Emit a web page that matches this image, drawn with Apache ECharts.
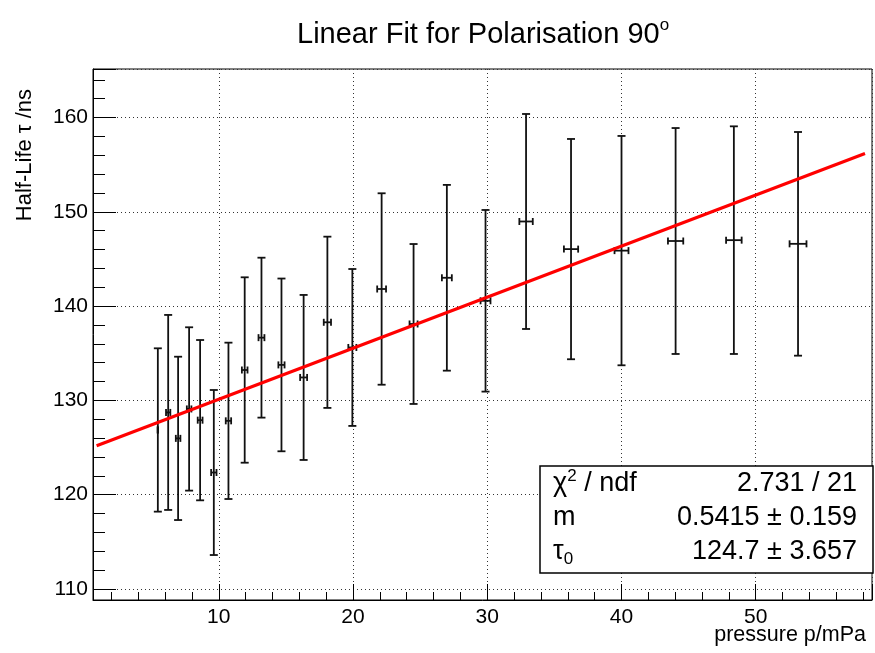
<!DOCTYPE html>
<html>
<head>
<meta charset="utf-8">
<script src="https://cdn.jsdelivr.net/npm/echarts@6/dist/echarts.min.js"></script>
<style>
html,body{margin:0;padding:0;background:#fff;}
#c{width:875px;height:653px;}
</style>
</head>
<body>
<div id="c"></div>
<script>
// ---- data ----
const pressure = [5.46, 6.23, 6.97, 7.79, 8.61, 9.63, 10.72, 11.93, 13.18, 14.67, 16.32, 18.09,
                  19.95, 22.13, 24.51, 26.99, 29.87, 32.89, 36.24, 40.0, 44.03, 48.37, 53.15];
const halfLife = [126.86, 128.72, 125.97, 129.09, 127.9, 122.35, 127.83, 133.22, 136.65, 133.76, 132.43, 138.28,
                  135.61, 141.81, 138.1, 143.0, 140.56, 148.97, 146.04, 145.88, 146.9, 146.99, 146.6];
const pressureErr = [0.02, 0.16, 0.17, 0.17, 0.18, 0.2, 0.2, 0.21, 0.22, 0.23, 0.26, 0.27,
                     0.3, 0.33, 0.3, 0.37, 0.37, 0.5, 0.53, 0.52, 0.57, 0.58, 0.63];
const halfLifeErr = [8.66, 10.34, 8.66, 8.66, 8.5, 8.75, 8.29, 9.83, 8.48, 9.16, 8.75, 9.08,
                     8.32, 10.15, 8.48, 9.85, 9.63, 11.4, 11.68, 12.16, 11.98, 12.07, 11.86];
const fitX = [0.9, 58.14];
const fitY = [125.19, 156.18];
const statValues = ['2.731 / 21', '0.5415 \u00b1 0.159', '124.7 \u00b1 3.657'];
const xTitle = 'pressure p/mPa';
const yTitle = 'Half-Life \u03c4 /ns';

const FONT = 'Liberation Sans, Arial, Helvetica, sans-serif';
const points = pressure.map((p, i) => [p, halfLife[i], pressureErr[i], halfLifeErr[i]]);
const fitData = fitX.map((x, i) => [x, fitY[i]]);
const tenFmt = v => (Math.abs(v / 10 - Math.round(v / 10)) < 1e-6 ? String(Math.round(v)) : '');

const chart = echarts.init(document.getElementById('c'), null, {renderer: 'canvas'});
const option = {
  animation: false,
  backgroundColor: '#fff',
  title: {
    text: '{a|Linear Fit for Polarisation 90}{s|o}',
    left: 292, top: 12,
    textStyle: {
      fontWeight: 'normal',
      rich: {
        a: {fontFamily: FONT, fontSize: 29, fontWeight: 'normal', color: '#000', lineHeight: 36},
        s: {fontFamily: FONT, fontSize: 17, fontWeight: 'normal', color: '#000', lineHeight: 17, verticalAlign: 'top'}
      }
    }
  },
  grid: {left: 93, top: 69, right: 2, bottom: 53, show: true, borderColor: '#000', borderWidth: 1, backgroundColor: 'transparent'},
  xAxis: {
    type: 'value', min: 0.63, max: 58.66, splitNumber: 5,
    axisLine: {show: true, onZero: false, lineStyle: {color: '#000', width: 1}},
    axisTick: {show: true, inside: true, length: 16, lineStyle: {color: '#000', width: 1}},
    minorTick: {show: true, splitNumber: 5, length: 8, lineStyle: {color: '#000', width: 1}},
    axisLabel: {formatter: tenFmt, color: '#000', fontFamily: FONT, fontSize: 21, margin: 7},
    splitLine: {show: true, lineStyle: {color: '#333', width: 1, type: [1, 3]}}
  },
  yAxis: {
    type: 'value', min: 108.83, max: 165.14, splitNumber: 5,
    axisLine: {show: true, onZero: false, lineStyle: {color: '#000', width: 1}},
    axisTick: {show: true, inside: true, length: 23, lineStyle: {color: '#000', width: 1}},
    minorTick: {show: true, splitNumber: 5, length: 12, lineStyle: {color: '#000', width: 1}},
    axisLabel: {formatter: tenFmt, color: '#000', fontFamily: FONT, fontSize: 21, margin: 5},
    splitLine: {show: true, lineStyle: {color: '#333', width: 1, type: [1, 3]}}
  },
  series: [
    {
      type: 'custom',
      data: points,
      z: 3,
      renderItem: function (params, api) {
        const x = api.value(0), y = api.value(1), ex = api.value(2), ey = api.value(3);
        const top = api.coord([x, y + ey]);
        const bot = api.coord([x, y - ey]);
        const l = api.coord([x - ex, y]);
        const r = api.coord([x + ex, y]);
        const cw = 4, ch = 3.5;
        const st = {stroke: '#111', lineWidth: 1.8};
        const ln = (x1, y1, x2, y2) => ({type: 'line', shape: {x1, y1, x2, y2}, style: st});
        return {
          type: 'group',
          children: [
            ln(top[0], top[1], bot[0], bot[1]),
            ln(top[0] - cw, top[1], top[0] + cw, top[1]),
            ln(bot[0] - cw, bot[1], bot[0] + cw, bot[1]),
            ln(l[0], l[1], r[0], r[1]),
            ln(l[0], l[1] - ch, l[0], l[1] + ch),
            ln(r[0], r[1] - ch, r[0], r[1] + ch)
          ]
        };
      }
    },
    {
      type: 'line',
      data: fitData,
      showSymbol: false,
      z: 5,
      lineStyle: {color: '#ff0000', width: 3.2},
      silent: true
    }
  ],
  graphic: [
    {
      type: 'text', x: 866, y: 624,
      style: {text: xTitle, font: '21.5px ' + FONT, fill: '#000', align: 'right', verticalAlign: 'top'}
    },
    {
      type: 'text', x: 25, y: 89, rotation: Math.PI / 2,
      style: {text: yTitle, font: '22px ' + FONT, fill: '#000', align: 'right', verticalAlign: 'middle'}
    },
    {
      type: 'group', z: 50,
      children: [
        {type: 'rect', shape: {x: 540, y: 466, width: 333, height: 107}, style: {fill: '#fff', stroke: '#000', lineWidth: 1.5}, z: 50},
        {type: 'text', x: 553, y: 484, z: 51, style: {text: '{a|\u03c7}{s|2}{a| / ndf}', fill: '#000', verticalAlign: 'middle',
          rich: {a: {fontFamily: FONT, fontSize: 27, lineHeight: 32}, s: {fontFamily: FONT, fontSize: 17, lineHeight: 17, verticalAlign: 'top'}}}},
        {type: 'text', x: 553, y: 518, z: 51, style: {text: '{a|m}', fill: '#000', verticalAlign: 'middle',
          rich: {a: {fontFamily: FONT, fontSize: 27, lineHeight: 32}}}},
        {type: 'text', x: 553, y: 552, z: 51, style: {text: '{a|\u03c4}{b|0}', fill: '#000', verticalAlign: 'middle',
          rich: {a: {fontFamily: FONT, fontSize: 27, lineHeight: 32}, b: {fontFamily: FONT, fontSize: 17, lineHeight: 17, verticalAlign: 'bottom'}}}},
        {type: 'text', x: 857, y: 484, z: 51, style: {text: statValues[0], font: '27px ' + FONT, fill: '#000', align: 'right', verticalAlign: 'middle'}},
        {type: 'text', x: 857, y: 518, z: 51, style: {text: statValues[1], font: '27px ' + FONT, fill: '#000', align: 'right', verticalAlign: 'middle'}},
        {type: 'text', x: 857, y: 552, z: 51, style: {text: statValues[2], font: '27px ' + FONT, fill: '#000', align: 'right', verticalAlign: 'middle'}}
      ]
    }
  ]
};
chart.setOption(option);
</script>
</body>
</html>
